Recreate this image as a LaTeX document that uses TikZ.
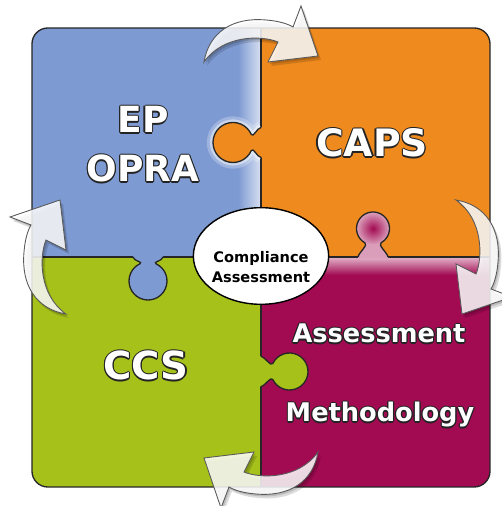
\documentclass[tikz,border=0pt]{standalone}
\usepackage{fontspec}
\setmainfont{DejaVu Sans}
\usetikzlibrary{shapes.geometric}

\definecolor{pblue}{RGB}{126,154,210}
\definecolor{porange}{RGB}{238,138,30}
\definecolor{pgreen}{RGB}{166,194,26}
\definecolor{pmagenta}{RGB}{162,10,82}
\definecolor{edge}{RGB}{35,35,35}

% white lettering with a thin dark rim, built from offset copies
\newcommand\rimcopy[3]{\rlap{\hspace*{#1}\raisebox{#2}{\textcolor{edge}{#3}}}}
\newcommand\rimtext[1]{%
  \rimcopy{.7pt}{0pt}{#1}\rimcopy{-.7pt}{0pt}{#1}%
  \rimcopy{0pt}{.7pt}{#1}\rimcopy{0pt}{-.7pt}{#1}%
  \rimcopy{.5pt}{.5pt}{#1}\rimcopy{-.5pt}{.5pt}{#1}%
  \rimcopy{.5pt}{-.5pt}{#1}\rimcopy{-.5pt}{-.5pt}{#1}%
  \textcolor{white}{#1}}

% outline of a puzzle knob: edge on u=0, knob towards +u
\newcommand\knobcurve[1]{(0,15) .. controls (4,14.5) and ({\ku-1.8},4.4) .. (\ku,8)
  arc[start angle={180-\ka}, end angle={-180+\ka}, radius=#1]
  .. controls ({\ku-1.8},-4.4) and (4,-14.5) .. (0,-15)}

% #1,#2 edge point, #3 direction, #4 centre distance, #5 radius, #6 fill, #7 extra
\newcommand\knob[7]{%
  \pgfmathsetmacro\ku{#4-sqrt(#5*#5-64)}%
  \pgfmathsetmacro\ka{asin(8/#5)}%
  \begin{scope}[shift={(#1,#2)}, rotate=#3]
    \fill[#6] (-1.5,15) -- \knobcurve{#5} -- (-1.5,-15) -- cycle;
    #7
    \draw[seam] \knobcurve{#5};
  \end{scope}}

% curved arrow, drawn for the top position around the centre
\newcommand\bendarrow{(-57,195) .. controls (-52,225) and (-28,240) .. (5,237)
  .. controls (18,236) and (27,233) .. (32,230) -- (40,251) -- (57,201)
  -- (7,195) -- (17,215) .. controls (0,222) and (-38,222) .. (-57,195) -- cycle}

\begin{document}
\begin{tikzpicture}[x=0.02cm, y=0.02cm,
    seam/.style={draw=black!85, line width=0.75pt},
    bigword/.style={anchor=base, inner sep=0pt, font=\bfseries\fontsize{#1}{#1}\selectfont},
    turn/.style={fill=white, fill opacity=.85, draw=black!65, line width=.5pt},
    turnshadow/.style={fill=black, opacity=.14}]
\useasboundingbox (0,0) rectangle (501,506);
\fill[white] (0,0) rectangle (501,506);

% the four quadrants
\begin{scope}
  \clip[rounded corners=9pt] (32,19) rectangle (490,478);
  \fill[pblue] (32,249) rectangle (261,478);
  \fill[porange] (261,249) rectangle (490,478);
  \fill[pgreen] (32,19) rectangle (261,249);
  \fill[pmagenta] (261,19) rectangle (490,249);
  \shade[left color=pblue, right color=pblue!30!white] (238,249) rectangle (261,478);
  \shade[top color=pmagenta!30!white, bottom color=pmagenta] (261,231) rectangle (490,249);
  \draw[seam] (261,19) -- (261,478);
  \draw[seam] (32,249) -- (490,249);
\end{scope}

% soft halo round the orange knob
\begin{scope}
  \clip (32,249) rectangle (260.5,478);
  \pgfmathsetmacro\ku{28-sqrt(20*20-64)}
  \pgfmathsetmacro\ka{asin(8/20)}
  \begin{scope}[shift={(261,363.5)}, rotate=180]
    \draw[white, line width=7pt, opacity=.25] \knobcurve{20};
    \draw[white, line width=3.5pt, opacity=.45] \knobcurve{20};
  \end{scope}
\end{scope}

% knobs
\knob{261}{363.5}{180}{28}{20}{porange}{}
\knob{373}{249}{90}{28.5}{16.5}{pmagenta!40!white}{%
  \shade[inner color=pmagenta, outer color=pmagenta!40!white] (28.5,0) circle (16);}
\knob{148}{249}{-90}{24}{19}{pblue}{}
\knob{261}{134.5}{0}{28.5}{18.5}{pgreen}{}
\draw[seam, rounded corners=9pt] (32,19) rectangle (490,478);

% centre ellipse
\node[ellipse, draw=black, line width=.8pt, fill=white, minimum width=77pt,
      minimum height=55pt, inner sep=0pt] (hub) at (261,250) {};
\node[font=\bfseries\fontsize{8.3}{11.4}\selectfont, align=center, inner sep=0pt]
      (hubtext) at (261,239) {Compliance\\Assessment};

% quadrant titles
\node[bigword=20.5] (ep) at (143,373) {\rimtext{EP}};
\node[bigword=20.5] (opra) at (143,324) {\rimtext{OPRA}};
\node[bigword=21.5] (caps) at (372,349) {\rimtext{CAPS}};
\node[bigword=22] (ccs) at (146,126) {\rimtext{CCS}};
\node[bigword=14.6] (assess) at (379,163) {\rimtext{Assessment}};
\node[bigword=14.6] (method) at (380,84) {\rimtext{Methodology}};

% clockwise arrows round the square
\foreach \k in {0,1,2,3} {
  \fill[turnshadow, shift={(264,245)}, rotate=-90*\k] \bendarrow;
  \fill[turnshadow, shift={(262.5,247)}, rotate=-90*\k] \bendarrow;
  \filldraw[turn, shift={(261,249)}, rotate=-90*\k] \bendarrow;
}
\end{tikzpicture}
\end{document}
